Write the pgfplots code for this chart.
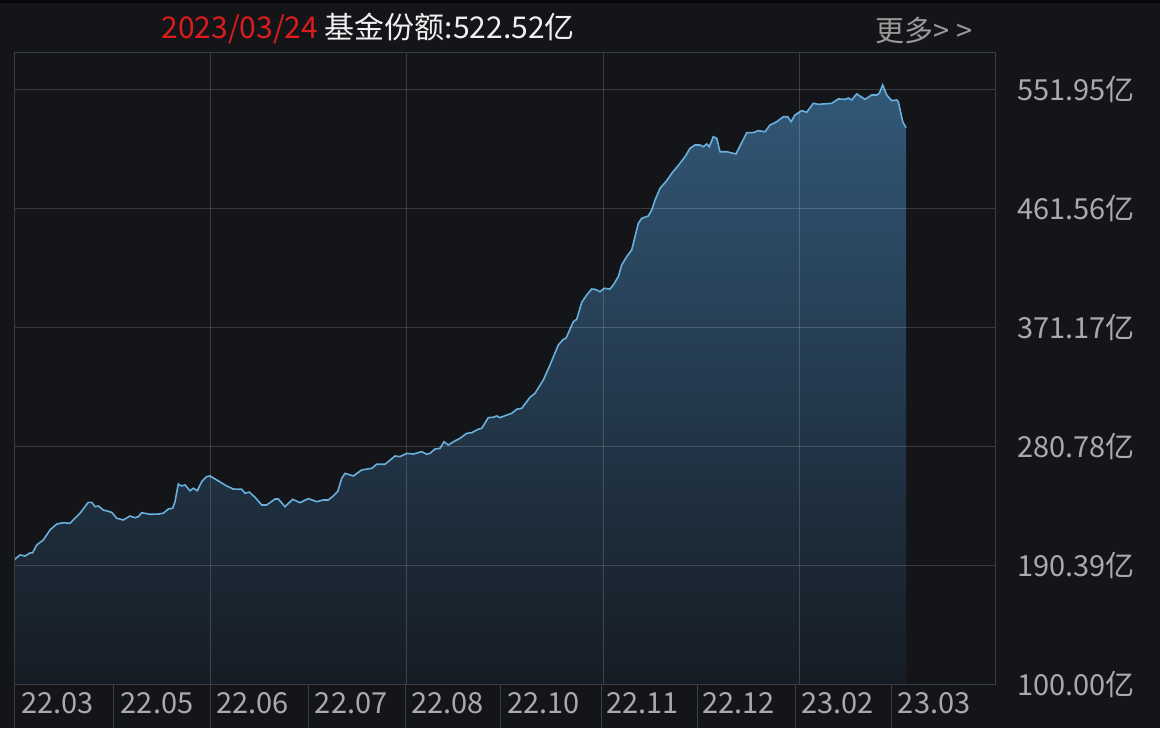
\documentclass[border=0pt]{standalone}
\usepackage{pgfplots}
\pgfplotsset{compat=1.18}
\usepackage{pgfplotstable}
\usepackage{fontspec}
\setmainfont{Noto Sans CJK SC}

\definecolor{bg}{RGB}{19,21,25}
\definecolor{gridc}{RGB}{58,61,66}
\definecolor{linec}{RGB}{105,175,220}
\definecolor{filltop}{RGB}{50,88,120}
\definecolor{fillbot}{RGB}{22,28,36}
\definecolor{tickc}{RGB}{170,170,170}
\definecolor{titlered}{RGB}{220,28,28}
\definecolor{titlew}{RGB}{240,240,240}
\definecolor{morec}{RGB}{155,155,155}

% x: trading-day position (px), y: fund shares (100 million)
\pgfplotstableread{
x y
14 194.2
20 198.0
25 197.2
30 199.5
32.7 199.7
36.7 205.6
43.3 209.4
50 217.0
56.7 221.5
63.3 222.5
70 222.1
80 229.7
88.3 238.0
91.7 238.0
95 234.7
98.3 235.2
103.3 232.2
111.7 230.4
116.7 225.9
123.3 224.6
130 227.6
135 226.3
138.3 227.1
141.7 230.1
150 228.9
158.3 229.1
163.3 229.7
168.3 232.9
172.7 233.5
175 238.5
178.3 251.9
181.7 250.4
185 251.2
190 246.8
193.3 248.7
197.3 246.8
201.7 253.7
206.7 257.5
210 258.0
216.7 255.0
226.7 250.4
233.3 248.1
241.7 247.9
245 244.9
249.3 245.8
255 241.8
261.7 236.0
266.7 236.0
275 240.5
278.3 240.5
285 234.7
292.7 240.3
300 237.7
308.3 240.8
316.7 238.5
323.3 239.8
328.3 239.8
333.3 242.8
337.7 246.1
341.7 256.2
345 260.0
353.3 258.0
361.7 262.6
371.7 263.8
376.7 266.9
385 266.9
395 273.2
400 272.7
406.7 275.2
413.3 274.7
421.7 276.5
426.7 274.5
430 275.2
435 278.5
440 279.0
444 284.0
448.3 281.5
453.3 284.0
460 286.6
466.7 290.4
471.7 290.9
478.3 293.5
481.7 294.2
488.3 302.3
493.3 302.6
496.7 303.6
500 302.3
505 303.8
511.7 305.6
516.7 308.7
521.7 309.4
530 317.8
535 320.8
543.3 330.9
550 342.3
558.3 357.5
563.3 361.8
566 362.6
573.3 375.2
576.7 377.0
581.7 389.9
586.7 395.5
591.7 400.0
595 399.8
600 398.0
604.3 400.6
610 400.0
613.3 403.1
618.3 409.4
621.7 418.3
626.7 424.6
631.7 429.7
635 439.8
638.3 449.9
641.7 453.7
648.3 455.5
651.7 460.0
655 467.6
660 476.5
666.7 482.3
671.7 487.9
680 495.5
685 500.5
690 506.9
695 509.4
700 509.4
703.3 508.1
706.7 510.2
709.3 508.1
713.3 515.7
716.7 514.5
720 504.3
726.7 504.3
736 502.6
746.7 518.8
753.3 518.8
758.3 520.3
765 519.5
770 524.6
776.7 527.1
783.3 530.9
787.7 530.9
791 527.1
795 532.2
801.7 535.5
806.7 534.3
813.3 541.1
818.3 540.3
831.7 541.1
838.3 544.4
845 544.1
848.3 545.1
851.7 543.6
856.7 548.2
865 544.1
871.7 547.4
876.7 547.4
879.3 548.7
882.7 555.0
886.7 547.4
891.7 543.1
896.7 543.6
898.3 542.3
902.7 527.1
906 522.5
}\fund

\begin{document}
\begin{tikzpicture}[x=0.5pt,y=0.5pt]
\useasboundingbox (0,0) rectangle (1160,728);
\fill[bg] (0,0) rectangle (1160,728);
\fill[black!70!bg] (0,725) rectangle (1160,728);

\begin{axis}[
    at={(7pt,22pt)}, anchor=south west,
    scale only axis,
    width=490.5pt, height=315.5pt,
    xmin=14, xmax=995,
    ymin=100, ymax=579.3,
    axis line style={draw=gridc, line width=0.5pt},
    xtick={210,406,603,799},
    xticklabels={},
    ytick={100,190.39,280.78,371.17,461.56,551.95},
    yticklabels={100.00亿,190.39亿,280.78亿,371.17亿,461.56亿,551.95亿},
    yticklabel pos=right,
    major tick length=0pt,
    grid=major,
    grid style={draw=white, opacity=0.16, line width=0.5pt},
    axis on top,
    ticklabel style={font=\fontsize{14.5}{17}\selectfont, text=tickc},
    yticklabel style={anchor=west, inner sep=0pt, xshift=11pt},
]
\addplot[draw=none, no markers, top color=filltop, bottom color=fillbot]
    table {\fund} |- (axis cs:14,100) -- cycle;
\addplot[linec, line width=0.8pt, no markers] table {\fund};
\end{axis}

\foreach \s in {14,113,210,308,405,500,601,697,795,891}
    \draw[gridc, line width=0.5pt] (\s,0) -- (\s,44);

\foreach \xs/\lab in {21/22.03,120.5/22.05,216/22.06,314.5/22.07,410.6/22.08,507/22.10,606/22.11,702/22.12,801/23.02,897.5/23.03}
    \node[anchor=west, inner sep=0pt, text=tickc, font=\fontsize{14.5}{17}\selectfont] at (\xs,25) {\lab};

\node[anchor=west, inner sep=0pt, font=\fontsize{15}{18}\selectfont] at (161,700)
    {\textcolor{titlered}{2023/03/24} \textcolor{titlew}{基金份额:522.52亿}};
\node[anchor=west, inner sep=0pt, text=morec, font=\fontsize{14.5}{17}\selectfont] at (875,698) {更多> >};
\end{tikzpicture}
\end{document}
